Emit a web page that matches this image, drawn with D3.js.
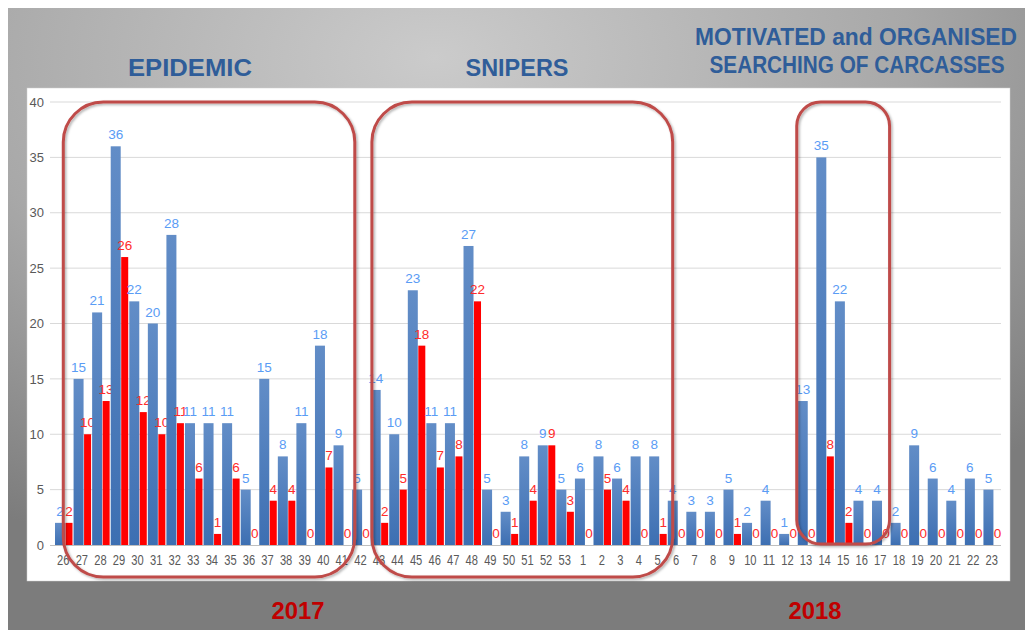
<!DOCTYPE html>
<html>
<head>
<meta charset="utf-8">
<script src="https://cdn.jsdelivr.net/npm/d3@7"></script>
<style>
  html, body { margin: 0; padding: 0; background: #fff; }
  svg { display: block; }
</style>
</head>
<body>
<svg id="chart" width="1030" height="630"></svg>
<script>
// week numbers, 2017 weeks 26..53 then 2018 weeks 1..23
var weeks = ["26","27","28","29","30","31","32","33","34","35","36","37","38","39","40","41","42","43","44","45","46","47","48","49","50","51","52","53",
             "1","2","3","4","5","6","7","8","9","10","11","12","13","14","15","16","17","18","19","20","21","22","23"];

var blueVals = [2,15,21,36,22,20,28,11,11,11,5,15,8,11,18,9,5,14,10,23,11,11,27,5,3,8,9,5,
                6,8,6,8,8,4,3,3,5,2,4,1,13,35,22,4,4,2,9,6,4,6,5];

var redVals  = [2,10,13,26,12,10,11,6,1,6,0,4,4,0,7,0,0,2,5,18,7,8,22,0,1,4,9,3,
                0,5,4,0,1,0,0,0,1,0,0,0,0,8,2,0,0,0,0,0,0,0,0];

var yTicks = [0,5,10,15,20,25,30,35,40];

// band keys must be unique, so index them
var keys = weeks.map(function(w, i){ return i; });

var svg = d3.select("#chart");
var defs = svg.append("defs");

var bg = defs.append("radialGradient").attr("id", "bg")
  .attr("cx", "0.42").attr("cy", "0.08").attr("r", "0.85");
bg.append("stop").attr("offset", "0").attr("stop-color", "#cbcbcb");
bg.append("stop").attr("offset", "0.55").attr("stop-color", "#a8a8a8");
bg.append("stop").attr("offset", "1").attr("stop-color", "#7c7c7c");

var bluegrad = defs.append("linearGradient").attr("id", "blue")
  .attr("x1", 0).attr("y1", 0).attr("x2", 0).attr("y2", 1);
bluegrad.append("stop").attr("offset", "0").attr("stop-color", "#628dc7");
bluegrad.append("stop").attr("offset", "1").attr("stop-color", "#3d6fb2");

var shadow = defs.append("filter").attr("id", "shadow")
  .attr("x", "-10%").attr("y", "-10%").attr("width", "120%").attr("height", "120%");
shadow.append("feDropShadow").attr("dx", 1.5).attr("dy", 1.5).attr("stdDeviation", 1.2)
  .attr("flood-color", "#000").attr("flood-opacity", 0.3);

// background panel
svg.append("rect").attr("x", 8).attr("y", 8).attr("width", 1017).attr("height", 622)
  .attr("fill", "url(#bg)");

// white plot panel
svg.append("rect").attr("x", 27).attr("y", 88).attr("width", 983).attr("height", 493)
  .attr("fill", "#fff").attr("stroke", "#d0d0d0").attr("stroke-width", 0.5);

var x = d3.scaleBand().domain(keys).range([54, 1001]).padding(0);
var y = d3.scaleLinear().domain([0, 40]).range([545, 102]);
var bw = x.bandwidth();

// gridlines
svg.append("g").selectAll("line").data(yTicks.slice(1)).join("line")
  .attr("x1", 50).attr("x2", 1001)
  .attr("y1", function(d){ return y(d); }).attr("y2", function(d){ return y(d); })
  .attr("stroke", "#d9d9d9").attr("stroke-width", 1);

// y axis
var yAxis = svg.append("g").attr("transform", "translate(44,0)")
  .call(d3.axisLeft(y).tickValues(yTicks).tickSize(0).tickPadding(0));
yAxis.select(".domain").remove();
yAxis.selectAll("text").attr("fill", "#595959")
  .style("font-family", "Liberation Sans, Arial, sans-serif").style("font-size", "13px");

// bars
var groups = svg.append("g").selectAll("g").data(keys).join("g");

groups.append("rect")
  .attr("x", function(i){ return x(i) + 1; })
  .attr("width", 10)
  .attr("y", function(i){ return y(blueVals[i]); })
  .attr("height", function(i){ return y(0) - y(blueVals[i]); })
  .attr("fill", "url(#blue)");

groups.append("rect")
  .attr("x", function(i){ return x(i) + 11.5; })
  .attr("width", 7)
  .attr("y", function(i){ return y(redVals[i]); })
  .attr("height", function(i){ return y(0) - y(redVals[i]); })
  .attr("fill", "#ff0000");

// x axis, labels squeezed to look like a narrow face
var xAxis = svg.append("g").attr("transform", "translate(0," + y(0) + ")")
  .call(d3.axisBottom(x).tickSize(0).tickPadding(10).tickFormat(function(i){ return weeks[i]; }));
xAxis.select(".domain").attr("stroke", "#bfbfbf").attr("d", "M50,0.5H1001");
xAxis.selectAll("text").attr("fill", "#595959")
  .style("font-family", "Liberation Sans, Arial, sans-serif").style("font-size", "14px")
  .attr("lengthAdjust", "spacingAndGlyphs")
  .attr("textLength", function(i){ return weeks[i].length * 6.2; });

// value labels
groups.append("text")
  .attr("x", function(i){ return x(i) + 6; })
  .attr("y", function(i){ return y(blueVals[i]) - 7; })
  .attr("text-anchor", "middle")
  .attr("fill", "#5a9cf5")
  .style("font-family", "Liberation Sans, Arial, sans-serif").style("font-size", "13.5px")
  .text(function(i){ return blueVals[i]; });

groups.append("text")
  .attr("x", function(i){ return x(i) + 15; })
  .attr("y", function(i){ return y(redVals[i]) - 7; })
  .attr("text-anchor", "middle")
  .attr("fill", "#ff2b2b")
  .style("font-family", "Liberation Sans, Arial, sans-serif").style("font-size", "13.5px")
  .text(function(i){ return redVals[i]; });

// highlighted periods: from week index + fraction of band to week index + fraction
var boxes = [
  { from: 0,  fromOff: 0.5,  to: 16, toOff: 0.2,  bottom: 577, r: 40 },
  { from: 17, fromOff: 0.12, to: 33, toOff: 0.32, bottom: 577, r: 40 },
  { from: 40, fromOff: 0,    to: 44, toOff: 1,    bottom: 544, r: 24 }
];

svg.append("g").selectAll("rect").data(boxes).join("rect")
  .attr("x", function(b){ return x(b.from) + b.fromOff * bw; })
  .attr("y", y(40))
  .attr("width", function(b){ return x(b.to) + b.toOff * bw - x(b.from) - b.fromOff * bw; })
  .attr("height", function(b){ return b.bottom - y(40); })
  .attr("rx", function(b){ return b.r; })
  .attr("fill", "none")
  .attr("stroke", "#bf4b49")
  .attr("stroke-width", 3)
  .attr("filter", "url(#shadow)");

// titles (no narrow face installed, so fit each to its width)
var titles = [
  { text: "EPIDEMIC", cx: 190, cy: 76, w: 124 },
  { text: "SNIPERS", cx: 517, cy: 76, w: 103 },
  { text: "MOTIVATED and ORGANISED", cx: 856, cy: 45, w: 322 },
  { text: "SEARCHING OF CARCASSES", cx: 857, cy: 73, w: 295 }
];
svg.append("g").selectAll("text").data(titles).join("text")
  .attr("x", function(d){ return d.cx; })
  .attr("y", function(d){ return d.cy; })
  .attr("text-anchor", "middle")
  .attr("fill", "#2f5d99")
  .attr("lengthAdjust", "spacingAndGlyphs")
  .attr("textLength", function(d){ return d.w; })
  .style("font-family", "Liberation Sans, Arial, sans-serif").style("font-weight", "bold").style("font-size", "24px")
  .text(function(d){ return d.text; });

var years = [
  { text: "2017", cx: 298 },
  { text: "2018", cx: 815 }
];
svg.append("g").selectAll("text").data(years).join("text")
  .attr("x", function(d){ return d.cx; })
  .attr("y", 619)
  .attr("text-anchor", "middle")
  .attr("fill", "#c00000")
  .attr("lengthAdjust", "spacingAndGlyphs")
  .attr("textLength", 53)
  .style("font-family", "Liberation Sans, Arial, sans-serif").style("font-weight", "bold").style("font-size", "23px")
  .text(function(d){ return d.text; });
</script>
</body>
</html>
